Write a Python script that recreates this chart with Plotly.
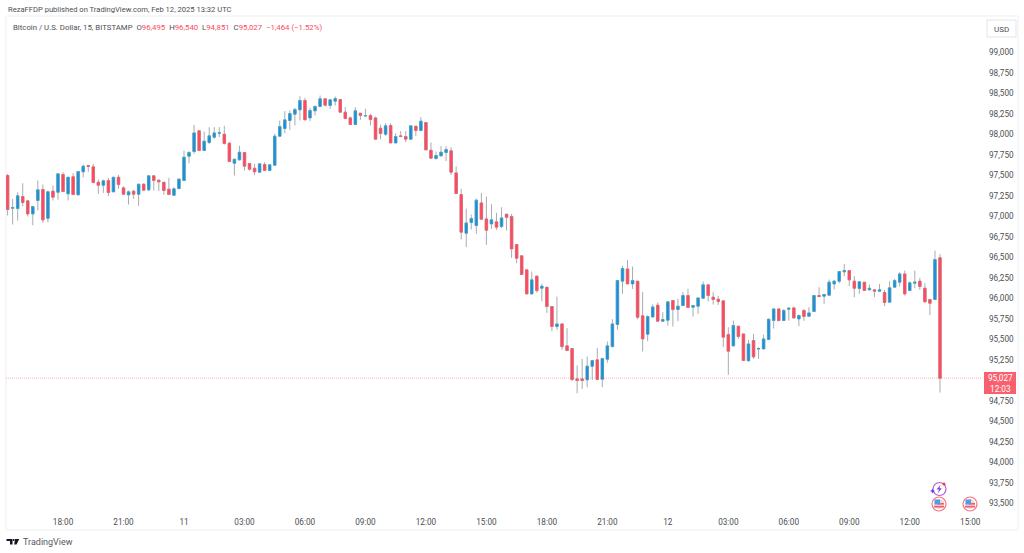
import pandas as pd
import plotly.graph_objects as go

# 15 minute candles, Bitstamp BTC/USD
start_time = "2025-02-10 15:15"
opens = [
    97499, 97100, 97096, 97243, 97190, 97031, 97194, 97328, 96978, 97308,
    97295, 97511, 97275, 97483, 97263, 97544, 97621, 97605, 97417, 97381,
    97438, 97300, 97478, 97348, 97263, 97308, 97271, 97393, 97324, 97495,
    97442, 97417, 97332, 97259, 97340, 97438, 97735, 97792, 98044, 97804,
    97901, 97967, 98015, 98003, 97893, 97649, 97690, 97779, 97645, 97588,
    97540, 97633, 97560, 97625, 97979, 98072, 98170, 98247, 98300, 98414,
    98202, 98288, 98341, 98434, 98353, 98406, 98426, 98272, 98202, 98121,
    98259, 98225, 98231, 98202, 98076, 98003, 98109, 97897, 97983, 97975,
    97942, 98101, 98048, 98145, 97808, 97706, 97739, 97780, 97800, 97531,
    97267, 96795, 96925, 96889, 97165, 96970, 96909, 96934, 96877, 97027,
    96999, 96657, 96519, 96348, 96055, 96271, 96125, 96136, 95901, 95657,
    95689, 95421, 95388, 95018, 95018, 95006, 95173, 95250, 95014, 95258,
    95412, 95681, 96210, 96360, 96177, 96210, 95787, 95563, 95774, 95917,
    95722, 95734, 95974, 95864, 95913, 96035, 95893, 95905, 96002, 96165,
    96015, 95990, 95970, 95559, 95421, 95661, 95567, 95238, 95486, 95382,
    95384, 95498, 95730, 95872, 95730, 95868, 95884, 95750, 95852, 95783,
    95840, 96035, 96027, 96039, 96177, 96210, 96324, 96340, 96210, 96120,
    96198, 96104, 96104, 96088, 96072, 95954, 96137, 96198, 96299, 96096,
    96185, 96210, 96124, 95986, 95986, 96495,
]
highs = [
    97519, 97214, 97295, 97405, 97190, 97121, 97438, 97389, 97316, 97377,
    97519, 97540, 97478, 97527, 97548, 97633, 97629, 97641, 97450, 97450,
    97470, 97478, 97507, 97369, 97316, 97324, 97397, 97405, 97495, 97495,
    97450, 97417, 97470, 97356, 97470, 97804, 97796, 98117, 98044, 98036,
    98089, 98089, 98089, 98105, 97910, 97698, 97861, 97779, 97645, 97641,
    97641, 97661, 97641, 98007, 98170, 98284, 98292, 98324, 98467, 98446,
    98324, 98353, 98475, 98442, 98434, 98463, 98434, 98333, 98219, 98333,
    98259, 98312, 98251, 98219, 98121, 98137, 98137, 98015, 98040, 98040,
    98105, 98101, 98211, 98145, 97902, 97792, 97857, 97857, 97845, 97609,
    97336, 97096, 97023, 97218, 97287, 97243, 97149, 97043, 97112, 97031,
    97031, 96657, 96519, 96348, 96328, 96279, 96177, 96136, 95901, 96022,
    95689, 95636, 95388, 95181, 95262, 95290, 95250, 95396, 95274, 95474,
    95746, 96218, 96397, 96470, 96389, 96210, 96075, 95791, 95925, 95949,
    95831, 95958, 95974, 95994, 96076, 96116, 95913, 96006, 96206, 96165,
    96076, 96031, 95970, 95649, 95730, 95661, 95567, 95494, 95567, 95405,
    95559, 95754, 95872, 95880, 95872, 95884, 95901, 95803, 95872, 95893,
    96035, 96137, 96055, 96230, 96226, 96332, 96421, 96340, 96271, 96210,
    96198, 96169, 96104, 96177, 96104, 96210, 96238, 96320, 96340, 96206,
    96340, 96250, 96185, 95986, 96584, 96540,
]
lows = [
    97011, 96901, 96950, 97121, 96998, 96893, 97072, 96921, 96929, 97194,
    97206, 97295, 97194, 97267, 97263, 97478, 97540, 97405, 97275, 97287,
    97247, 97295, 97336, 97263, 97145, 97214, 97129, 97308, 97308, 97316,
    97308, 97263, 97263, 97255, 97332, 97430, 97649, 97763, 97796, 97796,
    97885, 97946, 97967, 97877, 97661, 97499, 97682, 97560, 97560, 97503,
    97531, 97556, 97556, 97621, 97971, 98015, 98056, 98109, 98170, 98178,
    98162, 98231, 98333, 98341, 98312, 98353, 98263, 98186, 98117, 98121,
    98178, 98219, 98109, 97942, 97942, 97983, 97893, 97893, 97967, 97906,
    97938, 97979, 98040, 97812, 97710, 97694, 97731, 97674, 97507, 97279,
    96718, 96625, 96840, 96787, 96966, 96653, 96848, 96836, 96856, 96828,
    96494, 96429, 96291, 96055, 96047, 96071, 95966, 95823, 95600, 95616,
    95372, 95364, 94990, 94843, 94896, 94916, 95006, 95010, 94916, 95217,
    95404, 95616, 96055, 96177, 96116, 95746, 95352, 95478, 95766, 95722,
    95714, 95669, 95657, 95722, 95905, 95889, 95779, 95811, 95994, 95962,
    95925, 95921, 95405, 95067, 95413, 95506, 95238, 95234, 95262, 95262,
    95380, 95494, 95632, 95718, 95726, 95730, 95750, 95661, 95726, 95779,
    95836, 96015, 95933, 96035, 96108, 96185, 96271, 96149, 96015, 96055,
    96096, 96096, 96015, 96076, 95905, 95950, 96137, 96145, 96035, 96096,
    96124, 96104, 95954, 95795, 95986, 94851,
]
closes = [
    97084, 97108, 97251, 97169, 97031, 97121, 97324, 96958, 97300, 97235,
    97519, 97304, 97478, 97267, 97548, 97613, 97609, 97413, 97381, 97434,
    97291, 97478, 97389, 97271, 97300, 97271, 97393, 97320, 97495, 97438,
    97422, 97316, 97267, 97336, 97454, 97722, 97779, 98019, 97804, 97918,
    97983, 98019, 98022, 97889, 97670, 97698, 97784, 97613, 97576, 97544,
    97641, 97560, 97629, 97979, 98097, 98178, 98255, 98304, 98414, 98178,
    98292, 98341, 98434, 98357, 98422, 98438, 98272, 98194, 98121, 98288,
    98231, 98229, 98182, 97942, 98011, 98105, 97897, 97975, 97975, 97942,
    98105, 98048, 98162, 97812, 97710, 97743, 97784, 97816, 97540, 97279,
    96808, 96921, 96974, 97198, 96966, 96832, 96958, 96869, 96982, 96990,
    96604, 96490, 96291, 96055, 96226, 96096, 96149, 95901, 95657, 95689,
    95412, 95364, 95010, 94998, 94998, 95173, 95242, 95010, 95266, 95421,
    95689, 96218, 96364, 96177, 96218, 95770, 95506, 95779, 95896, 95722,
    95742, 95958, 95864, 95905, 96035, 95889, 95913, 96006, 96165, 96035,
    95986, 95962, 95527, 95356, 95669, 95535, 95242, 95445, 95287, 95388,
    95506, 95746, 95872, 95730, 95852, 95880, 95762, 95791, 95779, 95823,
    96035, 96023, 96047, 96198, 96210, 96328, 96340, 96226, 96124, 96202,
    96096, 96124, 96088, 96104, 95950, 96129, 96218, 96299, 96055, 96190,
    96198, 96145, 95958, 95941, 96474, 95027,
]
# 95,000 sits behind the last price tag, so it is not listed
price_ticks = [
    93500, 93750, 94000, 94250, 94500, 94750, 95250, 95500, 95750, 96000, 96250,
    96500, 96750, 97000, 97250, 97500, 97750, 98000, 98250, 98500, 98750, 99000,
]
time_ticks = [
    "2025-02-10 18:00", "2025-02-10 21:00", "2025-02-11 00:00", "2025-02-11 03:00",
    "2025-02-11 06:00", "2025-02-11 09:00", "2025-02-11 12:00", "2025-02-11 15:00",
    "2025-02-11 18:00", "2025-02-11 21:00", "2025-02-12 00:00", "2025-02-12 03:00",
    "2025-02-12 06:00", "2025-02-12 09:00", "2025-02-12 12:00", "2025-02-12 15:00",
]
time_labels = ["18:00", "21:00", "11", "03:00", "06:00", "09:00", "12:00", "15:00",
               "18:00", "21:00", "12", "03:00", "06:00", "09:00", "12:00", "15:00"]
last_price = 95027

BLUE = "#2189e0"
BLUE_EDGE = "#2fb0c0"
RED = "#fb4a5e"
WICK = "#a8abb1"
TEXT = "#4d4f55"
FONT = "Roboto"

# plot box in window pixels, used for the decorations around the chart
LEFT, RIGHT, TOP, BOTTOM = 6, 982, 16, 512


def px(x):
    return (x - LEFT) / (RIGHT - LEFT)


def py(y):
    return (BOTTOM - y) / (BOTTOM - TOP)


def poly(points):
    return "M " + " L ".join(f"{px(x)} {py(y)}" for x, y in points) + " Z"


times = pd.date_range(start_time, periods=len(opens), freq="15min")
body_hi = [max(o, c) for o, c in zip(opens, closes)]
body_lo = [min(o, c) for o, c in zip(opens, closes)]

fig = go.Figure()
# wicks first, grey, then the bodies on top so the two can differ in colour
fig.add_trace(go.Candlestick(
    x=times, open=opens, high=highs, low=lows, close=closes,
    increasing=dict(line=dict(color=WICK, width=1), fillcolor=WICK),
    decreasing=dict(line=dict(color=WICK, width=1), fillcolor=WICK),
    whiskerwidth=0, showlegend=False, hoverinfo="skip",
))
fig.add_trace(go.Candlestick(
    x=times, open=opens, high=body_hi, low=body_lo, close=closes,
    increasing=dict(line=dict(color=BLUE_EDGE, width=0.5), fillcolor=BLUE),
    decreasing=dict(line=dict(color="#fb5a6a", width=0.5), fillcolor=RED),
    whiskerwidth=0, showlegend=False,
))

shapes = [
    # outer frame of the chart
    dict(type="rect", xref="paper", yref="paper", x0=0, x1=px(1018), y0=py(530), y1=py(16),
         line=dict(color="#eeeff1", width=1), layer="below"),
    # last price line
    dict(type="line", xref="paper", yref="y", x0=0, x1=1, y0=last_price, y1=last_price,
         line=dict(color=RED, width=1, dash="1px,1px"), opacity=0.42),
    # price tag
    dict(type="rect", xref="paper", yref="paper", x0=px(984), x1=px(1016), y0=py(394), y1=py(372),
         fillcolor="#f9606e", line=dict(width=0)),
    # USD button
    dict(type="rect", xref="paper", yref="paper", x0=px(987), x1=px(1016), y0=py(37), y1=py(20),
         line=dict(color="#e3e4e8", width=1)),
    # logo
    dict(type="path", xref="paper", yref="paper", fillcolor="#131722", line=dict(width=0),
         path=poly([(6.5, 539), (12.5, 539), (12.5, 544.5), (10, 544.5), (10, 541), (6.5, 541)])),
    dict(type="path", xref="paper", yref="paper", fillcolor="#131722", line=dict(width=0),
         path=poly([(15, 539), (19.2, 539), (16.6, 544.5), (14.2, 544.5)])),
    dict(type="circle", xref="paper", yref="paper", x0=px(12.6), x1=px(14.6), y0=py(541), y1=py(539),
         fillcolor="#131722", line=dict(width=0)),
    # lightning event icon
    dict(type="circle", xref="paper", yref="paper", x0=px(933), x1=px(946), y0=py(495.5), y1=py(482.5),
         line=dict(color="#b45fd8", width=1.2)),
    dict(type="path", xref="paper", yref="paper", fillcolor="#8e3fd0", line=dict(width=0),
         path=poly([(940.5, 484.8), (936.5, 489.6), (939, 489.6), (937.8, 493.2), (941.8, 488.2), (939.4, 488.2)])),
    dict(type="circle", xref="paper", yref="paper", x0=px(942.5), x1=px(945.5), y0=py(485.5), y1=py(482.5),
         fillcolor="#f23645", line=dict(width=0)),
    dict(type="path", xref="paper", yref="paper", fillcolor="#5b3ff0", line=dict(width=0),
         path=poly([(932.5, 488.5), (933.3, 490.2), (935, 491), (933.3, 491.8), (932.5, 493.5),
                    (931.7, 491.8), (930, 491), (931.7, 490.2)])),
]
# US flag event icons
for cx in (939, 970):
    shapes += [
        dict(type="circle", xref="paper", yref="paper", x0=px(cx - 7), x1=px(cx + 7), y0=py(511), y1=py(497),
             fillcolor="white", line=dict(color="#f4727e", width=1.2)),
        dict(type="circle", xref="paper", yref="paper", x0=px(cx - 5), x1=px(cx + 5), y0=py(509), y1=py(499),
             fillcolor="#f9d5d8", line=dict(width=0)),
        dict(type="rect", xref="paper", yref="paper", x0=px(cx - 5), x1=px(cx + 5), y0=py(507.5), y1=py(505.8),
             fillcolor="#f0606c", line=dict(width=0)),
        dict(type="rect", xref="paper", yref="paper", x0=px(cx - 1), x1=px(cx + 5), y0=py(504.6), y1=py(503),
             fillcolor="#f0606c", line=dict(width=0)),
        dict(type="rect", xref="paper", yref="paper", x0=px(cx - 4.5), x1=px(cx + 1), y0=py(504.5), y1=py(499.5),
             fillcolor="#4f9de8", line=dict(width=0)),
    ]

val = f'<span style="color:{RED}">'
legend_text = (
    "Bitcoin / U.S. Dollar, 15, BITSTAMP  "
    f"O{val}96,495</span>  H{val}96,540</span>  L{val}94,851</span>  C{val}95,027</span>  "
    f"{val}\u22121,464 (\u22121.52%)</span>"
)


def note(text, x, y, size=8.2, color=TEXT, xanchor="left"):
    return dict(text=text, xref="paper", yref="paper", x=px(x), y=py(y), showarrow=False,
                xanchor=xanchor, yanchor="middle", font=dict(family=FONT, size=size, color=color))


annotations = [
    note("RezaFFDP published on TradingView.com, Feb 12, 2025 13:32 UTC", 6, 9.5, size=7.6),
    note(legend_text, 11, 27, size=7.8),
    note("USD", 1001.5, 29, size=8, xanchor="center"),
    note("95,027<br>12:03", 1000, 383.5, size=8.2, color="white", xanchor="center"),
    note("TradingView", 21, 541.5, size=9, color="#555861"),
]

fig.update_layout(
    width=1024, height=553,
    autosize=False,
    margin=dict(l=LEFT, r=1024 - RIGHT, t=TOP, b=553 - BOTTOM, pad=0),
    paper_bgcolor="white", plot_bgcolor="white",
    font=dict(family=FONT, size=8.2, color=TEXT),
    showlegend=False,
    shapes=shapes,
    annotations=annotations,
    xaxis=dict(
        type="date",
        range=["2025-02-10 15:10:14", "2025-02-12 15:35"],
        rangeslider=dict(visible=False),
        showgrid=False, zeroline=False, showline=False, ticks="",
        tickmode="array", tickvals=time_ticks, ticktext=time_labels,
        ticklabelstandoff=4,
    ),
    yaxis=dict(
        side="right",
        range=[93394, 99445],
        showgrid=False, zeroline=False, showline=False, ticks="",
        tickmode="array", tickvals=price_ticks, tickformat=",d",
        ticklabelstandoff=6,
    ),
)

# the page's default body margin would push the whole chart 8px in
fig.write_html(
    "out.html",
    config={"displayModeBar": False},
    post_script="document.body.style.margin='0';document.body.style.overflow='hidden';",
)
